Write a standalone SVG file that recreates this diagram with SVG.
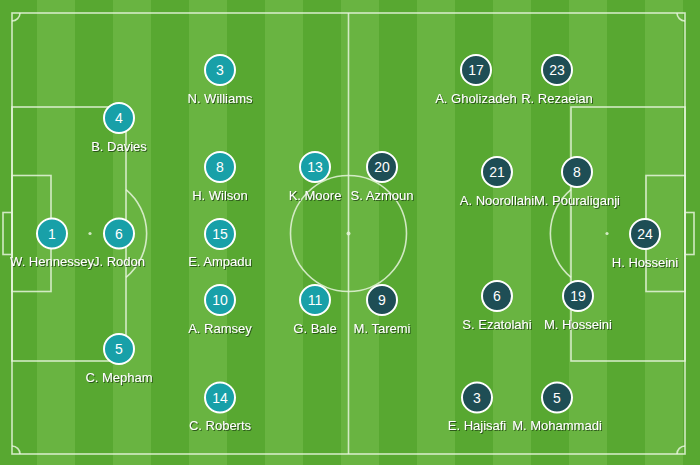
<svg xmlns="http://www.w3.org/2000/svg" width="700" height="465" viewBox="0 0 700 465">
<defs>
<pattern id="stripes" x="-1" y="0" width="76" height="465" patternUnits="userSpaceOnUse">
<rect x="0" y="0" width="38" height="465" fill="#58a831"/>
<rect x="38" y="0" width="38" height="465" fill="#69b441"/>
</pattern>
<filter id="sh" x="-20%" y="-40%" width="140%" height="180%">
<feDropShadow dx="1" dy="1" stdDeviation="0.6" flood-color="#1a3a10" flood-opacity="0.75"/>
</filter>
</defs>
<style>
.ln{fill:none;stroke:#e6f5dc;stroke-opacity:0.85;stroke-width:1.6}
.spot{fill:#e6f5dc;fill-opacity:0.85}
.w circle{fill:#18a0a8;stroke:#fff;stroke-width:2}
.i circle{fill:#1e4e55;stroke:#fff;stroke-width:2}
.num{font-family:"Liberation Sans",Arial,sans-serif;font-size:14px;fill:#fff;text-anchor:middle}
.lab{font-family:"Liberation Sans",Arial,sans-serif;font-size:13px;fill:#fff;text-anchor:middle;filter:url(#sh)}
</style>
<rect x="0" y="0" width="700" height="465" fill="url(#stripes)"/>
<g id="pitch">
<rect class="ln" x="12" y="13" width="673" height="441"/>
<line class="ln" x1="348.5" y1="13" x2="348.5" y2="454"/>
<circle class="ln" cx="348.5" cy="233.5" r="58"/>
<circle class="spot" cx="348.5" cy="233.5" r="2"/>
<rect class="ln" x="12" y="107" width="114" height="254"/>
<rect class="ln" x="12" y="175.5" width="39" height="116"/>
<rect class="ln" x="3" y="212.5" width="9" height="42"/>
<circle class="spot" cx="90" cy="233.5" r="1.6"/>
<path class="ln" d="M126 189.6 A57 57 0 0 1 126 277.4"/>
<rect class="ln" x="571" y="107" width="114" height="254"/>
<rect class="ln" x="646" y="175.5" width="39" height="116"/>
<rect class="ln" x="685" y="212.5" width="9" height="42"/>
<circle class="spot" cx="607" cy="233.5" r="1.6"/>
<path class="ln" d="M571 189.6 A57 57 0 0 0 571 277.4"/>
<path class="ln" d="M12 21 A8 8 0 0 0 20 13"/>
<path class="ln" d="M12 446 A8 8 0 0 1 20 454"/>
<path class="ln" d="M677 13 A8 8 0 0 0 685 21"/>
<path class="ln" d="M677 454 A8 8 0 0 1 685 446"/>
</g>
<g id="connectors"></g>
<g id="wales">
<g id="w1" class="w"><circle cx="52" cy="233.5" r="15"/><text class="num" x="52" y="238.5">1</text><text class="lab" x="52" y="266">W. Hennessey</text></g>
<g id="w6" class="w"><circle cx="119" cy="233.5" r="15"/><text class="num" x="119" y="238.5">6</text><text class="lab" x="119" y="266">J. Rodon</text></g>
<g id="w4" class="w"><circle cx="119" cy="118" r="15"/><text class="num" x="119" y="123">4</text><text class="lab" x="119" y="150.5">B. Davies</text></g>
<g id="w5" class="w"><circle cx="119" cy="349" r="15"/><text class="num" x="119" y="354">5</text><text class="lab" x="119" y="381.5">C. Mepham</text></g>
<g id="w3" class="w"><circle cx="220" cy="70" r="15"/><text class="num" x="220" y="75">3</text><text class="lab" x="220" y="102.5">N. Williams</text></g>
<g id="w8" class="w"><circle cx="220" cy="167" r="15"/><text class="num" x="220" y="172">8</text><text class="lab" x="220" y="199.5">H. Wilson</text></g>
<g id="w15" class="w"><circle cx="220" cy="234" r="15"/><text class="num" x="220" y="239">15</text><text class="lab" x="220" y="266">E. Ampadu</text></g>
<g id="w10" class="w"><circle cx="220" cy="300" r="15"/><text class="num" x="220" y="305">10</text><text class="lab" x="220" y="332.5">A. Ramsey</text></g>
<g id="w14" class="w"><circle cx="220" cy="397.5" r="15"/><text class="num" x="220" y="402.5">14</text><text class="lab" x="220" y="430">C. Roberts</text></g>
<g id="w13" class="w"><circle cx="315" cy="167" r="15"/><text class="num" x="315" y="172">13</text><text class="lab" x="315" y="199.5">K. Moore</text></g>
<g id="w11" class="w"><circle cx="315" cy="300" r="15"/><text class="num" x="315" y="305">11</text><text class="lab" x="315" y="332.5">G. Bale</text></g>
</g>
<g id="iran">
<g id="i20" class="i"><circle cx="382" cy="167" r="15"/><text class="num" x="382" y="172">20</text><text class="lab" x="382" y="199.5">S. Azmoun</text></g>
<g id="i9" class="i"><circle cx="382" cy="300" r="15"/><text class="num" x="382" y="305">9</text><text class="lab" x="382" y="332.5">M. Taremi</text></g>
<g id="i17" class="i"><circle cx="476" cy="70" r="15"/><text class="num" x="476" y="75">17</text><text class="lab" x="476" y="102.5">A. Gholizadeh</text></g>
<g id="i23" class="i"><circle cx="557" cy="70" r="15"/><text class="num" x="557" y="75">23</text><text class="lab" x="557" y="102.5">R. Rezaeian</text></g>
<g id="i21" class="i"><circle cx="497" cy="172" r="15"/><text class="num" x="497" y="177">21</text><text class="lab" x="497" y="204.5">A. Noorollahi</text></g>
<g id="i8" class="i"><circle cx="577" cy="172" r="15"/><text class="num" x="577" y="177">8</text><text class="lab" x="577" y="204.5">M. Pouraliganji</text></g>
<g id="i24" class="i"><circle cx="645" cy="234" r="15"/><text class="num" x="645" y="239">24</text><text class="lab" x="645" y="266.5">H. Hosseini</text></g>
<g id="i6" class="i"><circle cx="497" cy="296" r="15"/><text class="num" x="497" y="301">6</text><text class="lab" x="497" y="328.5">S. Ezatolahi</text></g>
<g id="i19" class="i"><circle cx="578" cy="296" r="15"/><text class="num" x="578" y="301">19</text><text class="lab" x="578" y="328.5">M. Hosseini</text></g>
<g id="i3" class="i"><circle cx="477" cy="397.5" r="15"/><text class="num" x="477" y="402.5">3</text><text class="lab" x="477" y="430">E. Hajisafi</text></g>
<g id="i5" class="i"><circle cx="557" cy="397.5" r="15"/><text class="num" x="557" y="402.5">5</text><text class="lab" x="557" y="430">M. Mohammadi</text></g>
</g>
</svg>
